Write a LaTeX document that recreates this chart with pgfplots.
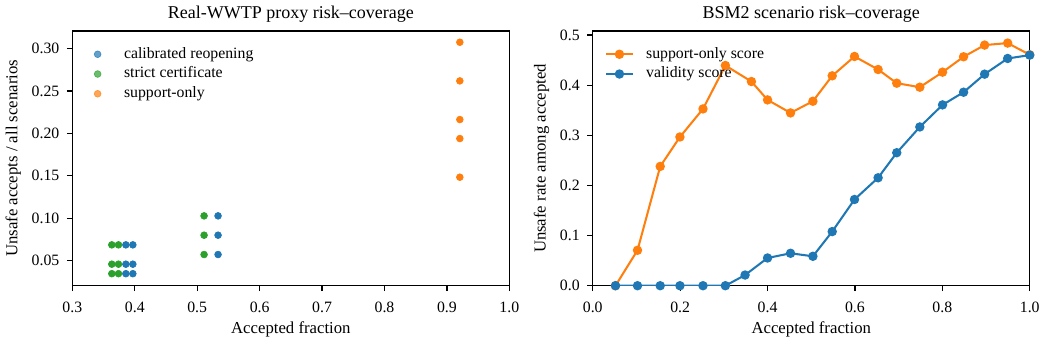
\documentclass[border=0pt]{standalone}
\usepackage{fontspec}
\setmainfont{Liberation Serif}
\usepackage{pgfplots}
\pgfplotsset{compat=1.18}

\definecolor{mplblue}{HTML}{1F77B4}
\definecolor{mplorange}{HTML}{FF7F0E}
\definecolor{mplgreen}{HTML}{2CA02C}

\pgfplotsset{
  riskaxis/.style={
    scale only axis,
    width=276.6pt, height=161.2pt,
    axis line style={line width=0.8pt},
    tick align=outside,
    xtick pos=left, ytick pos=left,
    major tick length=3.5pt,
    every tick/.append style={black, line width=0.8pt},
    tick label style={font=\fontsize{10}{12}\selectfont},
    xticklabel style={yshift=-3pt},
    yticklabel style={xshift=-1.2pt},
    label style={font=\fontsize{10.6}{12.5}\selectfont},
    xlabel style={yshift=1pt},
    title style={font=\fontsize{11.4}{13.5}\selectfont, yshift=-3.8pt},
    /pgf/number format/assume math mode=true,
    clip mode=individual,
    legend cell align=left,
  },
}

\begin{document}
\begin{tikzpicture}
\path[use as bounding box] (-45.8pt,-36.9pt) rectangle (616.3pt,180.85pt);

% Left panel: proxy risk against coverage for three acceptance rules
\begin{axis}[
  riskaxis,
  at={(0pt,0pt)}, anchor=south west,
  title={Real-WWTP proxy risk--coverage},
  xlabel={Accepted fraction},
  ylabel={Unsafe accepts / all scenarios},
  xmin=0.3, xmax=1.0, ymin=0.0203, ymax=0.3207,
  xtick={0.3,0.4,0.5,0.6,0.7,0.8,0.9,1.0},
  ytick={0.05,0.10,0.15,0.20,0.25,0.30},
  xticklabel style={/pgf/number format/.cd, fixed, fixed zerofill, precision=1},
  yticklabel style={/pgf/number format/.cd, fixed, fixed zerofill, precision=2},
  legend style={draw=none, fill=none, inner sep=0pt, outer sep=0pt,
    at={(0,1)}, anchor=north west,
    xshift=13.7pt, yshift=-10.2pt, row sep=3.5pt, column sep=0pt,
    nodes={inner sep=0pt, text height=7pt, text depth=2pt},
    font=\fontsize{10}{12}\selectfont},
  legend image code/.code={%
    \draw[#1, opacity=0.7] plot coordinates {(2.1pt,0pt)};
    \path (0pt,0pt) (18.6pt,0pt);},
]
\addplot[only marks, mark=*, mark size=2.15pt, color=mplblue] coordinates {
  (0.3857,0.0345) (0.3857,0.0457) (0.3857,0.0685)
  (0.3969,0.0345) (0.3969,0.0457) (0.3969,0.0685)
  (0.5334,0.0571) (0.5334,0.0799) (0.5334,0.1027)
};
\addlegendentry{calibrated reopening}
\addplot[only marks, mark=*, mark size=2.15pt, color=mplgreen] coordinates {
  (0.3632,0.0345) (0.3632,0.0457) (0.3632,0.0685)
  (0.3739,0.0345) (0.3739,0.0457) (0.3739,0.0685)
  (0.5110,0.0571) (0.5110,0.0799) (0.5110,0.1027)
};
\addlegendentry{strict certificate}
\addplot[only marks, mark=*, mark size=2.15pt, color=mplorange] coordinates {
  (0.9207,0.1483) (0.9207,0.1939) (0.9207,0.2163)
  (0.9207,0.2619) (0.9207,0.3075)
};
\addlegendentry{support-only}
\end{axis}

% Right panel: unsafe rate among accepted scenarios
\begin{axis}[
  riskaxis,
  at={(329.4pt,0pt)}, anchor=south west,
  title={BSM2 scenario risk--coverage},
  xlabel={Accepted fraction},
  ylabel={Unsafe rate among accepted},
  xmin=0, xmax=1.0, ymin=0, ymax=0.508,
  xtick={0,0.2,0.4,0.6,0.8,1.0},
  ytick={0,0.1,0.2,0.3,0.4,0.5},
  xticklabel style={/pgf/number format/.cd, fixed, fixed zerofill, precision=1},
  yticklabel style={/pgf/number format/.cd, fixed, fixed zerofill, precision=1},
  legend style={draw=none, fill=none, inner sep=0pt, outer sep=0pt,
    at={(0,1)}, anchor=north west,
    xshift=7.8pt, yshift=-10.2pt, row sep=3.5pt, column sep=7.8pt,
    nodes={inner sep=0pt, text height=7pt, text depth=2pt},
    font=\fontsize{10}{12}\selectfont},
  legend image code/.code={%
    \draw[mark repeat=2, mark phase=2, #1] plot coordinates {(0pt,0pt) (8.45pt,0pt) (16.9pt,0pt)};},
]
\addplot[color=mplorange, line width=1.3pt, mark=*, mark size=2.3pt] coordinates {
  (0.052,0) (0.1024,0.0707) (0.1544,0.238) (0.1995,0.2967) (0.2523,0.3527)
  (0.3035,0.4393) (0.3631,0.4073) (0.400,0.3707) (0.4526,0.3447) (0.5038,0.368)
  (0.548,0.4187) (0.599,0.4573) (0.653,0.4313) (0.6957,0.404) (0.7485,0.396)
  (0.8005,0.426) (0.8486,0.4567) (0.8968,0.48) (0.9495,0.484) (1.0,0.4607)
};
\addlegendentry{support-only score}
\addplot[color=mplblue, line width=1.3pt, mark=*, mark size=2.3pt] coordinates {
  (0.052,0) (0.1024,0) (0.1544,0) (0.1995,0) (0.2523,0)
  (0.3035,0) (0.3486,0.0213) (0.400,0.0553) (0.4526,0.0647) (0.5038,0.0587)
  (0.548,0.108) (0.599,0.172) (0.653,0.2153) (0.6957,0.2653) (0.7485,0.3167)
  (0.8005,0.3607) (0.8486,0.386) (0.8968,0.422) (0.9495,0.4533) (1.0,0.46)
};
\addlegendentry{validity score}
\end{axis}
\end{tikzpicture}
\end{document}
